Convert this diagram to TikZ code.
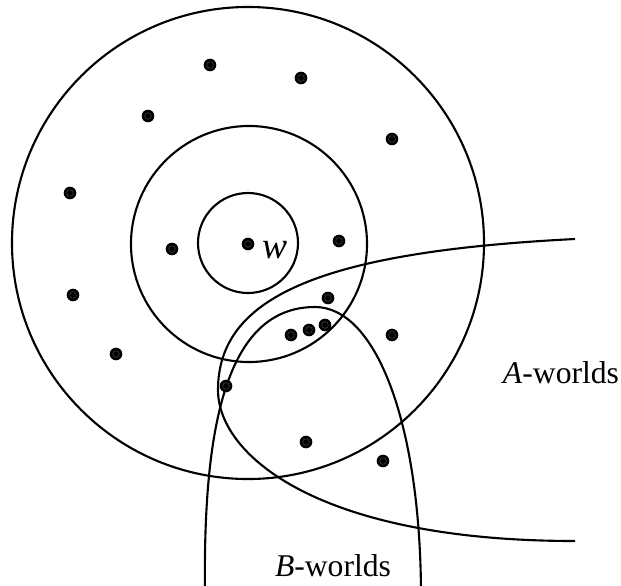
\documentclass[tikz,border=0pt]{standalone}
\usepackage{fontspec}
\setmainfont{Liberation Serif}
\usetikzlibrary{positioning}

\begin{document}
\begin{tikzpicture}[x=0.03cm,y=-0.03cm,line width=1.8pt,
  world/.style={circle,fill=black,inner sep=0pt,minimum size=0.38cm,
    path picture={\draw[gray!50!black,line width=0.5pt] (path picture bounding box.center) circle[radius=0.1cm];}},
  label/.style={font=\fontsize{27}{30}\selectfont}]
\useasboundingbox (0,0) rectangle (621,585);
% spheres round w
\draw (248,243) circle[radius=7.08cm];
\draw (249,244) circle[radius=3.54cm];
\draw (248,243) circle[radius=1.5cm];
% A-worlds and B-worlds
\draw (575,239) .. controls (318,252) and (218,298) .. (218,390)
      .. controls (218,455) and (318,541) .. (575,541);
\draw (205,592) .. controls (203,430) and (225,307) .. (315,307)
      .. controls (375,307) and (420,420) .. (421,592);
% worlds
\node[world] (w) at (248,244) {};
\node[inner sep=0pt,font=\fontsize{32}{32}\selectfont,right=0.17cm of w,yshift=-0.17cm] (wlabel) {\textit{w}};
\foreach \x/\y [count=\i] in {210/65, 301/78, 148/116, 392/139, 70/193, 172/249,
    339/241, 73/295, 328/298, 116/354, 291/335, 309/330, 325/325, 392/335,
    226/386, 306/442, 383/461}
  \node[world] (d\i) at (\x,\y) {};
\node[label] (aw) at (561,373) {\textit{A}-worlds};
\node[label] (bw) at (333,566) {\textit{B}-worlds};
\end{tikzpicture}
\end{document}
